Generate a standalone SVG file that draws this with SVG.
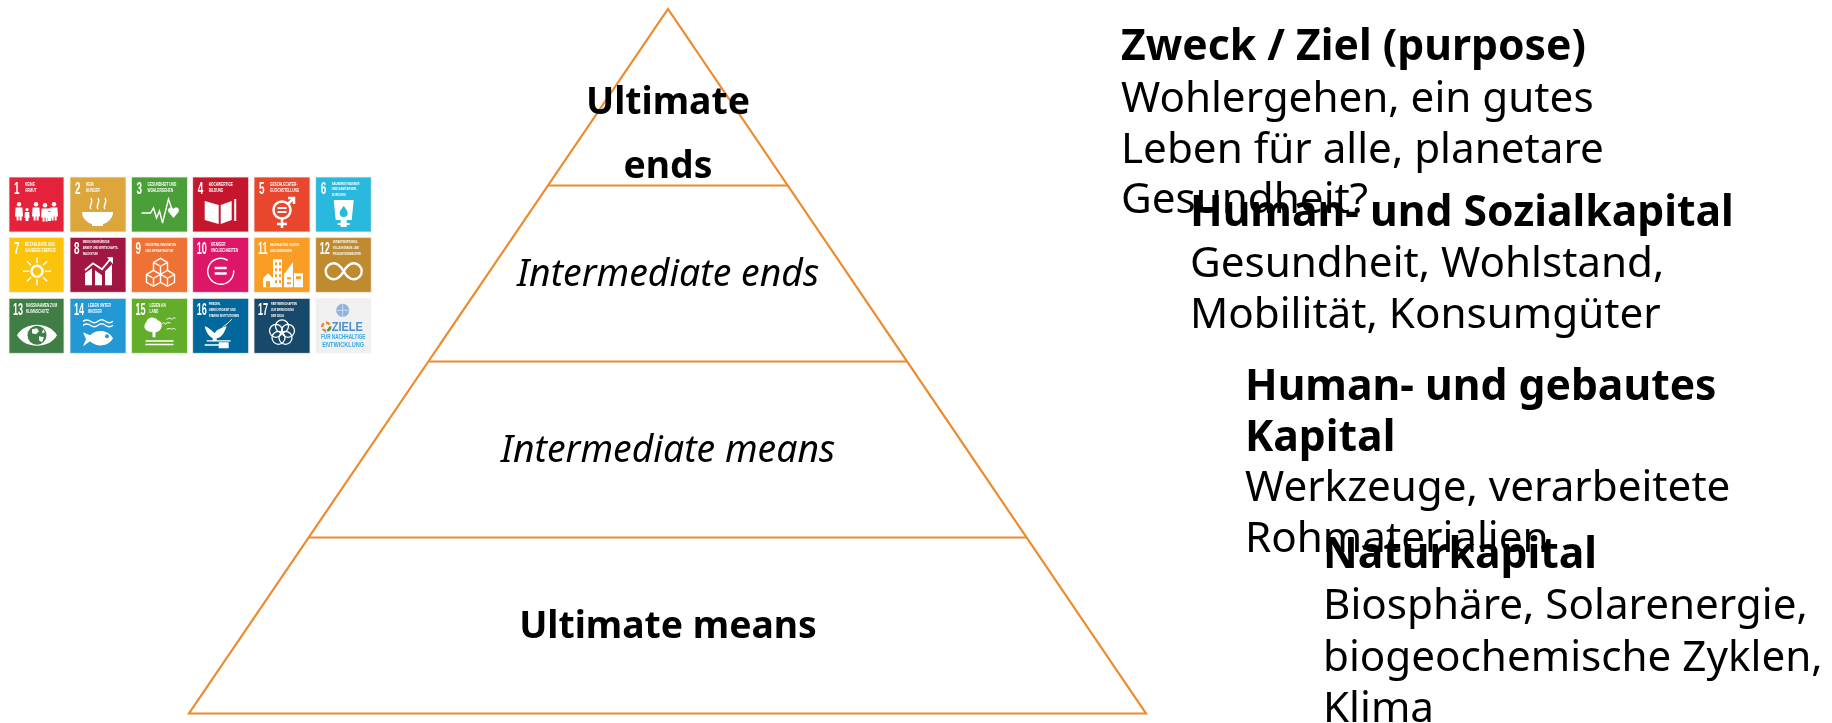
<svg xmlns="http://www.w3.org/2000/svg" width="1832" height="723" viewBox="0 0 1832 723">
<style>
text{font-family:"Noto Sans","Liberation Sans",sans-serif;fill:#000}
.h{font-size:42.67px;font-weight:700}
.b{font-size:42.2px}
.pb{font-size:37.33px;font-weight:700;text-anchor:middle}
.pi{font-size:37.33px;font-style:italic;text-anchor:middle}
.py{fill:none;stroke:#ED8B2E;stroke-width:2.2}
.t{stroke:#f6efe8;stroke-width:.8}
.n{font-family:"Liberation Sans",sans-serif;font-size:16.5px;font-weight:700;fill:#fff}
.c{font-family:"Liberation Sans",sans-serif;font-size:5px;font-weight:700;fill:#fff}
.s{font-family:"Liberation Sans",sans-serif;font-size:4.4px;font-weight:700;fill:#fff}
.w{fill:#fff}
.l{fill:none;stroke:#fff;stroke-width:1.4}
</style>
<defs>
<filter id="soft" x="-5%" y="-5%" width="110%" height="110%"><feGaussianBlur stdDeviation="0.3"/></filter>
<g id="ad"><circle cx="4" cy="2.2" r="2.2" class="w"/><path class="w" d="M0.6 5.5h6.8l.6 9h-1.4v4h-2v-4h-1v4h-2v-4h-1.6z"/></g>
<g id="ch"><circle cx="2.5" cy="1.6" r="1.600" class="w"/><path class="w" d="M.4 4h4.2l.4 6h-1v3h-3v-3h-1z"/></g>
</defs>

<g id="sdg-tiles" filter="url(#soft)">
<g id="sdg1" transform="translate(9,177)"><rect class="t" width="55" height="55" fill="#E5243B"/><text class="n" transform="translate(5,17) scale(.6,1)">1</text><g transform="translate(16,0) scale(.64,1)"><text class="c" y="9">KEINE</text><text class="c" y="15">ARMUT</text></g>
<use href="#ad" x="6" y="25"/><use href="#ch" x="15.500" y="31"/><use href="#ad" x="23" y="25"/><use href="#ad" x="32" y="26"/><use href="#ch" x="38" y="31"/><use href="#ad" x="41" y="25"/></g>
<g id="sdg2" transform="translate(70,177)"><rect class="t" width="56" height="55" fill="#DDA63A"/><text class="n" transform="translate(5,17) scale(.6,1)">2</text><g transform="translate(16,0) scale(.64,1)"><text class="c" y="9">KEIN</text><text class="c" y="15">HUNGER</text></g>
<path class="w" d="M12 35h31c0 7-6 11-10 12v2h-11v-2c-4-1-10-5-10-12z"/><path class="l" d="M21 32c-3-4 3-6 0-11M28 32c-3-4 3-6 0-11M35 32c-3-4 3-6 0-11"/></g>
<g id="sdg3" transform="translate(131.500,177)"><rect class="t" width="56" height="55" fill="#4C9F38"/><text class="n" transform="translate(5,17) scale(.6,1)">3</text><g transform="translate(16,0) scale(.64,1)"><text class="c" y="9">GESUNDHEIT UND</text><text class="c" y="15">WOHLERGEHEN</text></g>
<path class="l" d="M10 36h9l3-5 3 10 3-7 3 12 6-24 5 15"/><path class="w" d="M42 41l-5-6c-2-4 3-6 5-3 2-3 7-1 5 3z"/></g>
<g id="sdg4" transform="translate(192.700,177)"><rect class="t" width="56" height="55" fill="#C5192D"/><text class="n" transform="translate(5,17) scale(.6,1)">4</text><g transform="translate(16,0) scale(.64,1)"><text class="c" y="9">HOCHWERTIGE</text><text class="c" y="15">BILDUNG</text></g>
<path class="w" d="M12 24l14 4v19l-14-4zM28 28l11-4v19l-11 4z"/><rect class="w" x="41.500" y="22" width="2" height="22"/></g>
<g id="sdg5" transform="translate(254,177)"><rect class="t" width="56" height="55" fill="#E8462F"/><text class="n" transform="translate(5,17) scale(.6,1)">5</text><g transform="translate(16,0) scale(.64,1)"><text class="c" y="9">GESCHLECHTER-</text><text class="c" y="15">GLEICHSTELLUNG</text></g>
<circle class="l" cx="28" cy="33" r="8.500" style="stroke-width:2.500"/><path class="l" style="stroke-width:2.500" d="M34 27l6-6M34 21h6v6M28 42v9M23 47h10"/><path class="w" d="M23.500 30h9v2h-9zM23.500 34h9v2h-9z"/></g>
<g id="sdg6" transform="translate(315.700,177)"><rect class="t" width="55.500" height="55" fill="#2BB9DE"/><text class="n" transform="translate(5,17) scale(.6,1)">6</text><g transform="translate(16,0) scale(.62,1)"><text class="s" y="8">SAUBERES WASSER</text><text class="s" y="13.500">UND SANITÄRVER-</text><text class="s" y="19">SORGUNG</text></g>
<path class="w" d="M18 23h20l-2 20h-5v3h3v2h-3v2h-6v-2h-3v-2h3v-3h-5z"/><path d="M28 29c3 4 4 5 4 7a4 4 0 0 1-8 0c0-2 1-3 4-7z" fill="#2BB9DE"/></g>

<g id="sdg7" transform="translate(9,237.300)"><rect class="t" width="55" height="55" fill="#FCC30B"/><text class="n" transform="translate(5,17) scale(.6,1)">7</text><g transform="translate(16,0) scale(.64,1)"><text class="c" y="9">BEZAHLBARE UND</text><text class="c" y="15">SAUBERE ENERGIE</text></g>
<circle class="l" cx="28" cy="34" r="5.500" style="stroke-width:2.500"/><path class="l" d="M28 20v6M28 42v6M14 34h6M36 34h6M18 24l4 4M34 40l4 4M18 44l4-4M34 28l4-4"/></g>
<g id="sdg8" transform="translate(70,237.300)"><rect class="t" width="56" height="55" fill="#A21942"/><text class="n" transform="translate(4,17) scale(.6,1)">8</text><g transform="translate(12.700,0) scale(.58,1)"><text class="s" y="6">MENSCHENWÜRDIGE</text><text class="s" y="12">ARBEIT UND WIRTSCHAFTS-</text><text class="s" y="18">WACHSTUM</text></g>
<path class="w" d="M15 36l7-5v17h-7zM25 33l7 5v10h-7zM35 34l7-7v21h-7z"/><path class="l" d="M15 33l8-7 9 6 9-11" style="stroke-width:1.800"/><path class="w" d="M37 20h6v7z"/></g>
<g id="sdg9" transform="translate(131.500,237.300)"><rect class="t" width="56" height="55" fill="#EE7134"/><text class="n" transform="translate(4,17) scale(.6,1)">9</text><g transform="translate(14,0) scale(.58,1)"><text class="s" y="9">INDUSTRIE, INNOVATION</text><text class="s" y="15">UND INFRASTRUKTUR</text></g>
<path class="l" d="M29 21l7 4v8l-7 4-7-4v-8zM22 25l7 4 7-4M29 29v8M22 33l7 4v8l-7 4-7-4v-8zM15 37l7 4 7-4M22 41v8M36 33l7 4v8l-7 4-7-4M29 37l7 4 7-4M36 41v8"/></g>
<g id="sdg10" transform="translate(192.700,237.300)"><rect class="t" width="56" height="55" fill="#DD1367"/><text class="n" transform="translate(4,17) scale(.55,1)">10</text><g transform="translate(18,0) scale(.62,1)"><text class="c" y="9">WENIGER</text><text class="c" y="15">UNGLEICHHEITEN</text></g>
<path class="l" d="M35 23a13 13 0 1 0 6 10"/><path class="w" d="M22 29.500h12v2.500h-12zM22 35h12v2.500h-12z"/></g>
<g id="sdg11" transform="translate(254,237.300)"><rect class="t" width="56" height="55" fill="#F99D26"/><text class="n" transform="translate(4,17) scale(.55,1)">11</text><g transform="translate(16,0) scale(.58,1)"><text class="s" y="9">NACHHALTIGE STÄDTE</text><text class="s" y="15">UND GEMEINDEN</text></g>
<path class="w" d="M19 22h9v28h-9zM30 37l9-12v25h-9zM9 41l5-5 5 5v9h-10zM40 36h9v14h-9z"/><path d="M21 25h2v3h-2zM25 25h2v3h-2zM21 31h2v3h-2zM25 31h2v3h-2zM21 37h2v3h-2zM25 37h2v3h-2zM21 43h2v3h-2zM25 43h2v3h-2zM33 40h4v2h-4zM33 45h4v2h-4zM42 39h5v3h-5zM12 44h4v6h-4z" fill="#F99D26"/></g>
<g id="sdg12" transform="translate(315.700,237.300)"><rect class="t" width="55.500" height="55" fill="#BF8B2E"/><text class="n" transform="translate(4,17) scale(.55,1)">12</text><g transform="translate(17,0) scale(.55,1)"><text class="s" y="6">VERANTWORTUNGS-</text><text class="s" y="12">VOLLE KONSUM- UND</text><text class="s" y="18">PRODUKTIONSMUSTER</text></g>
<path class="l" style="stroke-width:2.400" d="M28 34c-3-5-6-8-10-8a8 8 0 0 0 0 16c4 0 7-3 10-8s6-8 10-8a8 8 0 0 1 0 16c-4 0-7-3-10-8z"/></g>

<g id="sdg13" transform="translate(9,298.300)"><rect class="t" width="55" height="55" fill="#3F7E44"/><text class="n" transform="translate(4,17) scale(.55,1)">13</text><g transform="translate(17,0) scale(.64,1)"><text class="c" y="9">MASSNAHMEN ZUM</text><text class="c" y="15">KLIMASCHUTZ</text></g>
<path class="w" d="M8 37c8-14 32-14 40 0-8 14-32 14-40 0z"/><circle cx="28" cy="37" r="9.500" fill="#3F7E44"/><path class="w" d="M23 31l5-1 2 3-3 3-4-1zM30 38l5 1-2 5-3-2zM34 31l2 3-3 1z"/></g>
<g id="sdg14" transform="translate(70,298.300)"><rect class="t" width="56" height="55" fill="#2299D5"/><text class="n" transform="translate(4,17) scale(.55,1)">14</text><g transform="translate(18,0) scale(.64,1)"><text class="c" y="9">LEBEN UNTER</text><text class="c" y="15">WASSER</text></g>
<path class="l" d="M13 23c3-2 5-2 7.500 0s5 2 7.500 0 5-2 7.500 0 5 2 7.500 0M13 27c3-2 5-2 7.500 0s5 2 7.500 0 5-2 7.500 0 5 2 7.500 0"/><path class="w" d="M13 34l7 3c6-6 18-6 23 3-5 9-17 9-23 3l-7 5 3-7z"/><circle cx="37" cy="38" r="2" fill="#2299D5"/></g>
<g id="sdg15" transform="translate(131.500,298.300)"><rect class="t" width="56" height="55" fill="#62AE2A"/><text class="n" transform="translate(4,17) scale(.55,1)">15</text><g transform="translate(18,0) scale(.64,1)"><text class="c" y="9">LEBEN AN</text><text class="c" y="15">LAND</text></g>
<path class="w" d="M21 39v-5c-10-1-9-8-6-10 0-5 8-7 11-2 6 1 5 9 1 11-2 1-3 1-3 1v5zM14 42h28v1.500h-28zM14 45.500h28v1.500h-28z"/><path class="l" style="stroke-width:1" d="M30 26c2-2 3-2 4 0 1-2 3-2 5-1M35 21c2-1 4-2 5 0 1-1 3-2 4-1M35 31c2-1 4-1 5 0 1-1 3-1 4 0"/></g>
<g id="sdg16" transform="translate(192.700,298.300)"><rect class="t" width="56" height="55" fill="#01689D"/><text class="n" transform="translate(4,17) scale(.55,1)">16</text><g transform="translate(16,0) scale(.58,1)"><text class="s" y="7">FRIEDEN,</text><text class="s" y="13">GERECHTIGKEIT UND</text><text class="s" y="19">STARKE INSTITUTIONEN</text></g>
<path class="w" d="M12 28c4 1 8 5 10 7 2-4 8-6 12-7-2 5-4 11-10 12v3h-4v-3c-4-2-7-7-8-12zM14 42h24v1.200h-24zM26 44h10v6h-10zM12 46h14v1.500h-14z"/><path class="l" style="stroke-width:1" d="M30 29c3-2 6-5 9-8"/></g>
<g id="sdg17" transform="translate(254,298.300)"><rect class="t" width="56" height="55" fill="#19486A"/><text class="n" transform="translate(4,17) scale(.55,1)">17</text><g transform="translate(17,0) scale(.58,1)"><text class="s" y="7">PARTNERSCHAFTEN</text><text class="s" y="13">ZUR ERREICHUNG</text><text class="s" y="19">DER ZIELE</text></g>
<g class="l" style="stroke-width:1.300"><circle cx="28" cy="28" r="6.500"/><circle cx="34" cy="32.500" r="6.500"/><circle cx="31.500" cy="39.500" r="6.500"/><circle cx="24.500" cy="39.500" r="6.500"/><circle cx="22" cy="32.500" r="6.500"/></g></g>
<g id="sdg-logo" transform="translate(315.700,298.300)"><rect width="55.500" height="55" fill="#F0F0F0"/>
<circle cx="27" cy="12" r="6.500" fill="#8FB4DC"/><path d="M27 6v12M21 12h12" stroke="#F0F0F0" stroke-width=".6"/>
<circle cx="10.500" cy="28.500" r="4" fill="none" stroke="#E5863A" stroke-width="2.500" stroke-dasharray="4 2"/><circle cx="10.500" cy="28.500" r="4" fill="none" stroke="#4C9F38" stroke-width="2.500" stroke-dasharray="5 20"/>
<text transform="translate(16,33) scale(.85,1)" style="font-size:13px;font-weight:700;fill:#4C8FCB;font-family:'Liberation Sans',sans-serif">ZIELE</text>
<text transform="translate(27.500,41) scale(.72,1)" text-anchor="middle" style="font-size:6.500px;font-weight:700;fill:#37A9E0;font-family:'Liberation Sans',sans-serif">FÜR NACHHALTIGE</text>
<text transform="translate(27.500,49) scale(.8,1)" text-anchor="middle" style="font-size:7px;font-weight:700;fill:#37A9E0;font-family:'Liberation Sans',sans-serif">ENTWICKLUNG</text></g>
</g>

<g id="pyramid">
<polygon class="py" points="668,9 1146,713.500 189,713.500"/>
<line class="py" x1="548" y1="185.500" x2="788" y2="185.500"/>
<line class="py" x1="429" y1="361.500" x2="907" y2="361.500"/>
<line class="py" x1="309" y1="537.500" x2="1027" y2="537.500"/>
</g>
<g id="level-ultimate-ends"><text class="pb" x="668" y="114">Ultimate</text><text class="pb" x="668" y="178">ends</text></g>
<g id="level-intermediate-ends"><text class="pi" x="668" y="286">Intermediate ends</text></g>
<g id="level-intermediate-means"><text class="pi" x="668" y="462">Intermediate means</text></g>
<g id="level-ultimate-means"><text class="pb" x="668" y="638">Ultimate means</text></g>

<g id="text-purpose"><text class="h" x="1121" y="60">Zweck / Ziel (purpose)</text><text class="b" x="1121" y="112">Wohlergehen, ein gutes</text><text class="b" x="1121" y="162.500">Leben für alle, planetare</text><text class="b" x="1121" y="213">Gesundheit?</text></g>
<g id="text-sozialkapital"><text class="h" x="1190" y="226">Human- und Sozialkapital</text><text class="b" x="1190" y="277">Gesundheit, Wohlstand,</text><text class="b" x="1190" y="327.500">Mobilität, Konsumgüter</text></g>
<g id="text-gebautes"><text class="h" x="1245" y="400">Human- und gebautes</text><text class="h" x="1245" y="450.500">Kapital</text><text class="b" x="1245" y="501">Werkzeuge, verarbeitete</text><text class="b" x="1245" y="552">Rohmaterialien</text></g>
<g id="text-naturkapital"><text class="h" x="1323" y="568">Naturkapital</text><text class="b" x="1323" y="619">Biosphäre, Solarenergie,</text><text class="b" x="1323" y="670.500">biogeochemische Zyklen,</text><text class="b" x="1323" y="722">Klima</text></g>
</svg>
